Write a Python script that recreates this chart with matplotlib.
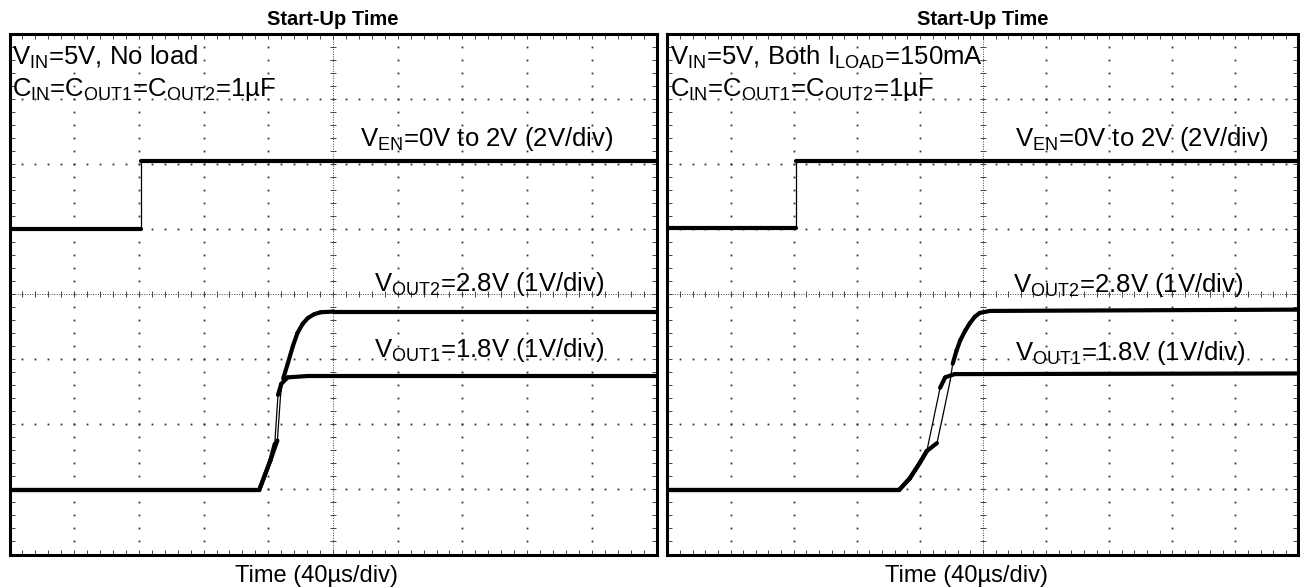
import numpy as np
import matplotlib
matplotlib.use('Agg')
from matplotlib import pyplot as plt
from matplotlib.collections import LineCollection

plt.rcParams['font.family'] = ['Liberation Sans', 'DejaVu Sans']
plt.rcParams['mathtext.fontset'] = 'custom'
plt.rcParams['mathtext.rm'] = 'Liberation Sans'

# Left: no load (x in time divisions, y in screen divisions)
en_t_a = [0, 2.03, 2.03, 10]
en_v_a = [5.0, 5.0, 6.04, 6.04]
vout1_t_a = [0, 3.86, 4.03, 4.10, 4.15, 4.20, 4.30, 4.60, 10]
vout1_v_a = [0.99, 0.99, 1.44, 1.70, 2.45, 2.62, 2.72, 2.74, 2.74]
vout2_t_a = [0, 3.86, 4.03, 4.14, 4.19, 4.23, 4.30, 4.38, 4.45, 4.53, 4.61, 4.71, 4.81, 5.01, 10]
vout2_v_a = [0.99, 0.99, 1.44, 1.75, 2.45, 2.70, 2.93, 3.20, 3.40, 3.54, 3.63, 3.69, 3.72, 3.73, 3.73]

# Right: both loads 150mA
en_t_b = [0, 2.04, 2.04, 10]
en_v_b = [5.02, 5.02, 6.04, 6.04]
vout1_t_b = [0, 3.67, 3.84, 4.00, 4.11, 4.32, 4.40, 4.55, 10]
vout1_v_b = [0.99, 0.99, 1.17, 1.41, 1.59, 2.56, 2.72, 2.77, 2.78]
vout2_t_b = [0, 3.67, 3.84, 4.00, 4.11, 4.27, 4.37, 4.48, 4.52, 4.58, 4.64, 4.72, 4.79, 4.87, 4.95, 5.11, 10]
vout2_v_b = [0.99, 0.99, 1.17, 1.41, 1.59, 1.71, 2.16, 2.67, 2.93, 3.13, 3.29, 3.44, 3.55, 3.65, 3.71, 3.74, 3.76]

title = 'Start-Up Time'
xlabel = 'Time (40µs/div)'
cond_a = r'V$_{\mathregular{IN}}$=5V, No load'
cond_b = r'V$_{\mathregular{IN}}$=5V, Both I$_{\mathregular{LOAD}}$=150mA'
caps = r'C$_{\mathregular{IN}}$=C$_{\mathregular{OUT1}}$=C$_{\mathregular{OUT2}}$=1µF'
lbl_en = r'V$_{\mathregular{EN}}$=0V to 2V (2V/div)'
lbl_v2 = r'V$_{\mathregular{OUT2}}$=2.8V (1V/div)'
lbl_v1 = r'V$_{\mathregular{OUT1}}$=1.8V (1V/div)'


def trace(ax, t, v):
    """Трасса осциллографа: толстая на пологих участках, тонкая на фронтах"""
    pts = np.column_stack([t, v])
    segs = np.stack([pts[:-1], pts[1:]], axis=1)
    dt = np.diff(t)
    dv = np.abs(np.diff(v))
    slope = np.where(dt > 0, dv / np.where(dt > 0, dt, 1), np.inf)
    lw = np.where(slope > 4, 0.9, 3.0)
    ax.add_collection(LineCollection(segs, linewidths=lw, colors='black',
                                     capstyle='round', joinstyle='round', zorder=3))


def graticule(ax):
    """Сетка осциллографа 10x8 делений"""
    xm = np.arange(0, 10.001, 0.2)
    ym = np.arange(0, 8.001, 0.2)
    for xi in range(1, 10):
        if xi != 5:
            ax.plot(np.full(len(ym), xi), ym, ls='none', marker='s', ms=1.3,
                    mew=0, color='#333333', zorder=1)
    for yi in range(1, 8):
        if yi != 4:
            ax.plot(xm, np.full(len(xm), yi), ls='none', marker='s', ms=1.3,
                    mew=0, color='#333333', zorder=1)
    # Центральные оси с рисками
    ax.plot([0, 10], [4, 4], color='#444444', lw=0.7, ls=(0, (1, 1.5)), zorder=1)
    ax.plot([5, 5], [0, 8], color='#444444', lw=0.7, ls=(0, (1, 1.5)), zorder=1)
    ax.plot(xm, np.full(len(xm), 4), ls='none', marker='|', ms=5, mew=0.7,
            color='#444444', zorder=1)
    ax.plot(np.full(len(ym), 5), ym, ls='none', marker='_', ms=5, mew=0.7,
            color='#444444', zorder=1)


def panel(ax, cond, en_t, en_v, v1_t, v1_v, v2_t, v2_v, lx_en, lx_v2, lx_v1, y_v2, y_v1):
    ax.set_xlim(0, 10)
    ax.set_ylim(0, 8)
    graticule(ax)
    trace(ax, en_t, en_v)
    trace(ax, v2_t, v2_v)
    trace(ax, v1_t, v1_v)

    ax.set_xticks(np.arange(0, 10.001, 0.2))
    ax.set_yticks(np.arange(0, 8.001, 0.2))
    ax.tick_params(direction='in', length=3.5, width=0.7, color='#444444',
                   top=True, right=True, labelbottom=False, labelleft=False)
    for s in ax.spines.values():
        s.set_linewidth(2.2)

    fs = 18.5
    ax.text(0.04, 7.52, cond, fontsize=fs, va='baseline', ha='left', zorder=4)
    ax.text(0.04, 7.04, caps, fontsize=fs, va='baseline', ha='left', zorder=4)
    ax.text(lx_en, 6.27, lbl_en, fontsize=fs, va='baseline', ha='center', zorder=4)
    ax.text(lx_v2, y_v2, lbl_v2, fontsize=fs, va='baseline', ha='center', zorder=4)
    ax.text(lx_v1, y_v1, lbl_v1, fontsize=fs, va='baseline', ha='center', zorder=4)

    ax.set_title(title, fontsize=14.5, fontweight='bold', pad=6)
    ax.text(0.474, -0.053, xlabel, fontsize=17, ha='center', va='baseline',
            transform=ax.transAxes)


fig = plt.figure(figsize=(13, 5.88), dpi=100)
ax1 = fig.add_axes([9.5 / 1300, 33.5 / 588, 647 / 1300, 521 / 588])
ax2 = fig.add_axes([667.5 / 1300, 33.5 / 588, 631 / 1300, 521 / 588])

panel(ax1, cond_a, en_t_a, en_v_a, vout1_t_a, vout1_v_a, vout2_t_a, vout2_v_a,
      7.38, 7.41, 7.41, 4.05, 3.03)
panel(ax2, cond_b, en_t_b, en_v_b, vout1_t_b, vout1_v_b, vout2_t_b, vout2_v_b,
      7.52, 7.30, 7.33, 4.03, 2.98)

fig.savefig('out.png', dpi=100)
